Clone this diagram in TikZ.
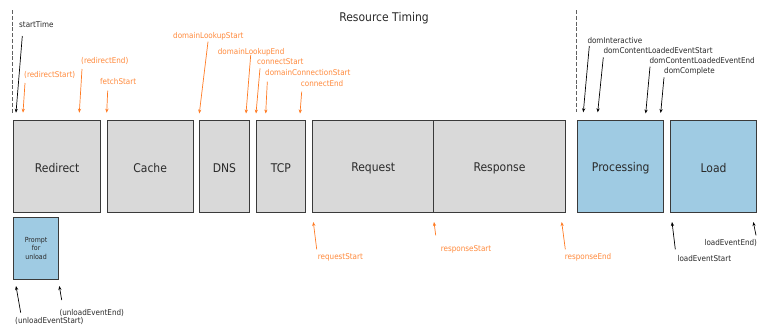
\documentclass[tikz,border=0pt]{standalone}
\usepackage{fontspec}
\setmainfont[FakeStretch=0.9]{DejaVu Sans}
\usetikzlibrary{arrows.meta}
\definecolor{boxgray}{HTML}{D9D9D9}
\definecolor{boxblue}{HTML}{9FCBE3}
\definecolor{edge}{HTML}{3A3A3A}
\definecolor{orarrow}{HTML}{FF7A22}
\definecolor{ortext}{HTML}{FF8A3C}
\definecolor{dktext}{HTML}{2A2A2A}
\definecolor{dashgray}{HTML}{606060}
\tikzset{
  phase/.style={draw=edge, line width=0.9pt, anchor=north west, inner sep=0pt,
    font=\fontsize{12}{14}\selectfont, text=dktext},
  grayphase/.style={phase, fill=boxgray},
  bluephase/.style={phase, fill=boxblue},
  lbl/.style={anchor=west, inner sep=0pt, text height=5.8pt, text depth=0pt,
    font=\fontsize{8}{9}\selectfont},
  blk/.style={lbl, text=dktext},
  org/.style={lbl, text=ortext},
  barr/.style={draw=black, line width=0.7pt, -{Stealth[length=4pt,width=3.2pt]}},
  oarr/.style={draw=orarrow, line width=0.7pt, -{Stealth[length=4pt,width=3.2pt]}},
  marker/.style={draw=dashgray, line width=1.5pt, dash pattern=on 4pt off 1.8pt},
  boxtext/.style={font=\fontsize{12}{14}\selectfont, text=dktext},
}
\begin{document}
\begin{tikzpicture}[x=1pt,y=-1pt]
\useasboundingbox (0,0) rectangle (770,333);
\fill[white] (0,0) rectangle (770,333);

% title
\node[font=\fontsize{12}{14}\selectfont, text=dktext, inner sep=0pt] (title) at (384,18) {Resource Timing};

% dashed markers
\coordinate (d1a) at (12.7,10); \coordinate (d1b) at (12.7,113);
\coordinate (d2a) at (576.7,10); \coordinate (d2b) at (576.7,112);
\draw[marker] (d1a) -- (d1b);
\draw[marker] (d2a) -- (d2b);

% phase boxes
\node[grayphase, minimum width=86.7pt, minimum height=92pt] (redirect) at (13.3,120) {};
\node[boxtext] (redirectT) at ([yshift=-1.5pt]redirect.center) {Redirect};
\node[grayphase, minimum width=86pt, minimum height=92pt] (cache) at (106.7,120) {};
\node[boxtext] (cacheT) at ([yshift=-1.5pt]cache.center) {Cache};
\node[grayphase, minimum width=49.4pt, minimum height=92pt] (dns) at (199.3,120) {};
\node[boxtext] (dnsT) at ([yshift=-1.5pt]dns.center) {DNS};
\node[grayphase, minimum width=49pt, minimum height=92pt] (tcp) at (256,120) {};
\node[boxtext] (tcpT) at ([yshift=-1.5pt]tcp.center) {TCP};
\node[grayphase, minimum width=121pt, minimum height=92pt] (request) at (312.3,120) {};
\node[boxtext] (requestT) at ([yshift=-1.5pt]request.center) {Request};
\node[grayphase, minimum width=131.4pt, minimum height=92pt] (response) at (433.3,120) {};
\node[boxtext] (responseT) at ([yshift=-1.5pt]response.center) {Response};
\node[bluephase, minimum width=86pt, minimum height=92pt] (processing) at (577.3,120) {};
\node[boxtext] (processingT) at ([yshift=-1.5pt]processing.center) {Processing};
\node[bluephase, minimum width=85.7pt, minimum height=92pt] (load) at (670.3,120) {};
\node[boxtext] (loadT) at ([yshift=-1.5pt]load.center) {Load};
\node[bluephase, minimum width=44.7pt, minimum height=61.4pt] (prompt) at (13.3,217.3) {};
\node[font=\fontsize{7}{8.7}\selectfont, text=dktext, align=center] (promptT) at (prompt.center) {Prompt\\for\\unload};

% black labels
\node[blk] (startTime) at (19,25) {startTime};
\node[blk] (domInteractive) at (587.3,40.7) {domInteractive};
\node[blk] (dclStart) at (603.3,50.7) {domContentLoadedEventStart};
\node[blk] (dclEnd) at (649.3,60.7) {domContentLoadedEventEnd};
\node[blk] (domComplete) at (664,70.7) {domComplete};
\node[blk] (unloadStart) at (15,320.7) {(unloadEventStart)};
\node[blk] (unloadEnd) at (59.3,312.7) {(unloadEventEnd)};
\node[blk] (loadStart) at (677.3,258.3) {loadEventStart};
\node[blk] (loadEnd) at (704.3,242.3) {loadEventEnd)};

% orange labels
\node[org] (redirectStart) at (24,75) {(redirectStart)};
\node[org] (redirectEnd) at (81,61) {(redirectEnd)};
\node[org] (fetchStart) at (100,82) {fetchStart};
\node[org] (dlStart) at (173,36) {domainLookupStart};
\node[org] (dlEnd) at (217.7,51.7) {domainLookupEnd};
\node[org] (connectStart) at (257,61.7) {connectStart};
\node[org] (dcStart) at (265,72.3) {domainConnectionStart};
\node[org] (connectEnd) at (300.7,83.3) {connectEnd};
\node[org] (requestStart) at (317.7,256.7) {requestStart};
\node[org] (responseStart) at (440.7,248.3) {responseStart};
\node[org] (responseEnd) at (564.7,256.7) {responseEnd};

% arrow end points
\coordinate (a1t) at (22.3,36);   \coordinate (a1h) at (16,112.7);
\coordinate (a2t) at (589.3,46);  \coordinate (a2h) at (583.3,112.3);
\coordinate (a3t) at (603.3,57.3);\coordinate (a3h) at (597.7,112.3);
\coordinate (a4t) at (650,66.7);  \coordinate (a4h) at (645.7,113.5);
\coordinate (a5t) at (664,77.3);  \coordinate (a5h) at (660.7,113);
\coordinate (a6t) at (20.7,312.7);\coordinate (a6h) at (16,286);
\coordinate (a7t) at (61.7,300);  \coordinate (a7h) at (59.3,286);
\coordinate (a8t) at (675.3,249.3);\coordinate (a8h) at (672,222);
\coordinate (a9t) at (756,235.3); \coordinate (a9h) at (753.3,222);

\coordinate (b1t) at (25,83);     \coordinate (b1h) at (23,112.7);
\coordinate (b2t) at (82,69);     \coordinate (b2h) at (79.3,112.7);
\coordinate (b3t) at (107.7,90.7);\coordinate (b3h) at (106.7,112.7);
\coordinate (b4t) at (208,41.7);  \coordinate (b4h) at (199.3,113.5);
\coordinate (b5t) at (250.7,55);  \coordinate (b5h) at (246,113.5);
\coordinate (b6t) at (260,68.3);  \coordinate (b6h) at (256,113.5);
\coordinate (b7t) at (267.3,81.7);\coordinate (b7h) at (265.7,113.5);
\coordinate (b8t) at (301.7,91.7);\coordinate (b8h) at (300,113.5);
\coordinate (b9t) at (316.7,249.3);\coordinate (b9h) at (313.3,222);
\coordinate (b10t) at (435.7,235.3);\coordinate (b10h) at (434,222);
\coordinate (b11t) at (565.3,249.3);\coordinate (b11h) at (561.7,222);

\foreach \i in {1,...,9} \draw[barr] (a\i t) -- (a\i h);
\foreach \i in {1,...,11} \draw[oarr] (b\i t) -- (b\i h);
\end{tikzpicture}
\end{document}
